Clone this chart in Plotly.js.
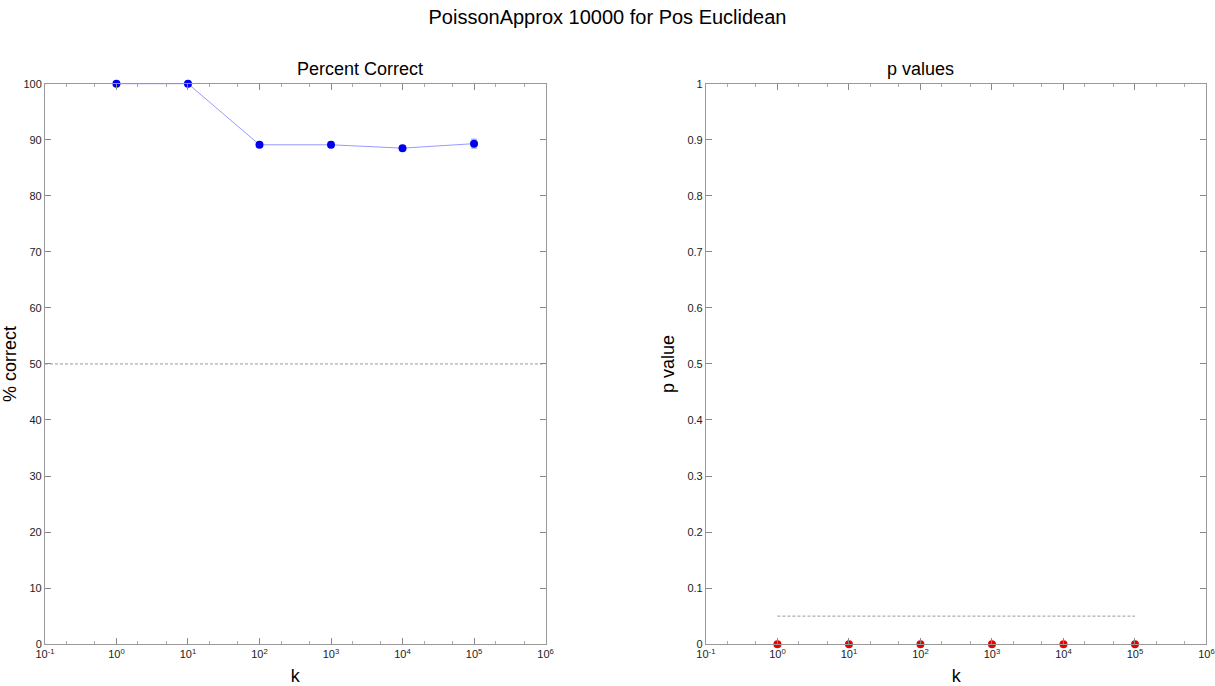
<!DOCTYPE html>
<html><head><meta charset="utf-8">
<script src="https://cdn.plot.ly/plotly-3.0.1.min.js"></script>
<style>body{margin:0}#c{width:1215px;height:686px}</style>
</head><body><div id="c"></div>
<script>
const kVals = [1, 10, 100, 1000, 10000, 100000];
const pctCorrect = [100, 100, 89.1, 89.1, 88.5, 89.3];
const pctErr = [0.1, 0.1, 0.4, 0.5, 0.4, 0.8];
const pValues = [0, 0, 0, 0, 0, 0];
const chanceLevel = 50;
const alphaLevel = 0.05;
const tickVals = [0.1, 1, 10, 100, 1000, 10000, 100000, 1000000];
const tickText = ['10<sup>-1</sup>', '10<sup>0</sup>', '10<sup>1</sup>', '10<sup>2</sup>', '10<sup>3</sup>', '10<sup>4</sup>', '10<sup>5</sup>', '10<sup>6</sup>'];

const FONT = 'Liberation Sans, Arial, sans-serif';

function _xaxis(domain, anchor) {
  return {
    type: 'log', range: [-1, 6], domain, anchor,
    tickvals: tickVals, ticktext: tickText,
    ticks: 'inside', ticklen: 6, tickcolor: '#888', mirror: 'allticks',
    minor: { ticks: 'inside', ticklen: 3, tickcolor: '#aaa', showgrid: false },
    showline: true, linecolor: '#999', linewidth: 1,
    showgrid: false, zeroline: false,
    tickfont: { size: 11, color: '#222' },
    title: { text: 'k', font: { size: 18, color: '#000' }, standoff: 10 },
  };
}
function _yaxis(domain, anchor, range, dtick, title) {
  return {
    range, domain, anchor, dtick,
    ticks: 'inside', ticklen: 6, tickcolor: '#888', mirror: 'allticks',
    showline: true, linecolor: '#999', linewidth: 1,
    showgrid: false, zeroline: false,
    tickfont: { size: 11, color: '#222' },
    title: { text: title, font: { size: 18, color: '#000' }, standoff: 8 },
  };
}

const traces = [
  {
    x: [0.1, 1000000], y: [chanceLevel, chanceLevel], xaxis: 'x', yaxis: 'y',
    mode: 'lines', line: { color: '#999', width: 1, dash: '3px,2px' }, hoverinfo: 'skip',
  },
  {
    x: kVals, y: pctCorrect, xaxis: 'x', yaxis: 'y',
    mode: 'lines+markers', cliponaxis: false,
    line: { color: '#9999ff', width: 1 },
    marker: { color: '#0000ee', size: 8 },
    error_y: { type: 'data', array: pctErr, color: '#9999ff', thickness: 1, width: 3 },
  },
  {
    x: [kVals[0], kVals[kVals.length - 1]], y: [alphaLevel, alphaLevel], xaxis: 'x2', yaxis: 'y2',
    mode: 'lines', line: { color: '#999', width: 1, dash: '3px,2px' }, hoverinfo: 'skip',
  },
  {
    x: kVals, y: pValues, xaxis: 'x2', yaxis: 'y2',
    mode: 'markers', marker: { color: '#ee0000', size: 8 }, cliponaxis: false,
  },
];

Plotly.newPlot('c', traces, {
  width: 1215, height: 686,
  margin: { t: 0, r: 0, b: 0, l: 0 },
  showlegend: false,
  paper_bgcolor: '#fff', plot_bgcolor: '#fff',
  font: { family: FONT },
  title: { text: 'PoissonApprox 10000 for Pos Euclidean', font: { size: 20, color: '#000' }, x: 0.5, y: 0.985, yanchor: 'top' },
  xaxis: _xaxis([0.037, 0.449], 'y'),
  yaxis: _yaxis([0.061, 0.878], 'x', [0, 100], 10, '% correct'),
  xaxis2: _xaxis([0.581, 0.993], 'y2'),
  yaxis2: _yaxis([0.061, 0.878], 'x2', [0, 1], 0.1, 'p value'),
  annotations: [
    { text: 'Percent Correct', xref: 'paper', yref: 'paper', x: 0.243, y: 0.882, yanchor: 'bottom', showarrow: false, font: { size: 18, color: '#000' } },
    { text: 'p values', xref: 'paper', yref: 'paper', x: 0.787, y: 0.882, yanchor: 'bottom', showarrow: false, font: { size: 18, color: '#000' } },
  ],
}, { displayModeBar: false });
</script>
</body></html>
